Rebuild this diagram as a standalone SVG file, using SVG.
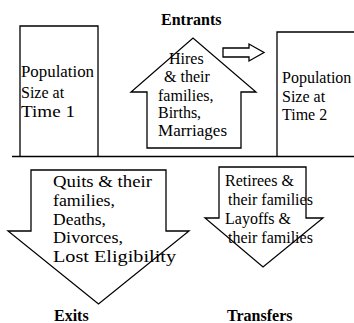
<svg xmlns="http://www.w3.org/2000/svg" width="354" height="323" viewBox="0 0 354 323">
<style>
.s{fill:none;stroke:#000;stroke-width:1.3;stroke-linejoin:miter}
.t{font-family:"Liberation Serif","Times New Roman",serif;fill:#000;font-size:16px}
.b{font-family:"Liberation Serif","Times New Roman",serif;font-weight:bold;font-size:16px;fill:#000}
</style>
<rect width="354" height="323" fill="#fff"/>
<g id="connectors">
<line class="s" x1="12" y1="156.5" x2="354" y2="156.5" stroke-width="1.5"/>
<path id="small-arrow" class="s" d="M223,48 H249 V44 L264,52.5 L249,61 V57 H223 Z" stroke-width="1.1"/>
</g>
<g id="pop1">
<path class="s" d="M20,156 V26 H98 V156"/>
<text class="t" x="21" y="77" textLength="73" lengthAdjust="spacingAndGlyphs">Population</text>
<text class="t" x="21" y="98">Size at</text>
<text class="t" x="21" y="117" textLength="54" lengthAdjust="spacingAndGlyphs">Time 1</text>
</g>
<g id="pop2">
<path class="s" d="M277,156 V32 H356"/>
<text class="t" x="282" y="83">Population</text>
<text class="t" x="282" y="102">Size at</text>
<text class="t" x="282" y="120">Time 2</text>
</g>
<g id="entrants">
<path class="s" d="M147,148 V92 H131 L193,38 L256,92 H241 V148 Z"/>
<text class="b" x="161" y="25">Entrants</text>
<text class="t" x="169" y="64">Hires</text>
<text class="t" x="164" y="82">&amp; their</text>
<text class="t" x="158" y="101">families,</text>
<text class="t" x="158" y="118">Births,</text>
<text class="t" x="158" y="136" textLength="69" lengthAdjust="spacingAndGlyphs">Marriages</text>
</g>
<g id="exits">
<path class="s" d="M31,170 H166 V231 H189 L98.5,304 L8,231 H31 Z"/>
<text class="t" x="53" y="187" textLength="99" lengthAdjust="spacingAndGlyphs">Quits &amp; their</text>
<text class="t" x="53" y="206" textLength="62" lengthAdjust="spacingAndGlyphs">families,</text>
<text class="t" x="53" y="225" textLength="53" lengthAdjust="spacingAndGlyphs">Deaths,</text>
<text class="t" x="53" y="243" textLength="70" lengthAdjust="spacingAndGlyphs">Divorces,</text>
<text class="t" x="53" y="262" textLength="123" lengthAdjust="spacingAndGlyphs">Lost Eligibility</text>
<text class="b" x="54" y="321">Exits</text>
</g>
<g id="transfers">
<path class="s" d="M219,167 H306 V218 H323 L263,267 L205,218 H219 Z"/>
<text class="t" x="225" y="186">Retirees &amp;</text>
<text class="t" x="228" y="205">their families</text>
<text class="t" x="225" y="224">Layoffs &amp;</text>
<text class="t" x="228" y="243">their families</text>
<text class="b" x="227" y="321">Transfers</text>
</g>
</svg>
